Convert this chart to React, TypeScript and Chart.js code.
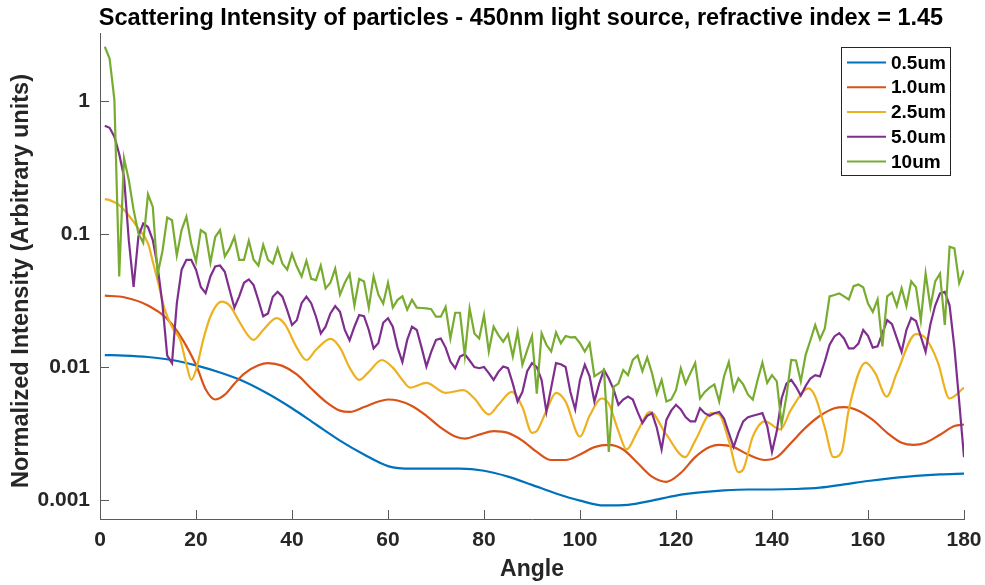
import React, { useEffect, useRef } from "react";
import { Chart, registerables } from "chart.js";

Chart.register(...registerables);

const TITLE = "Scattering Intensity of particles - 450nm light source, refractive index = 1.45";
const X_LABEL = "Angle";
const Y_LABEL = "Normalized Intensity (Arbitrary units)";
const SERIES_LABELS = ["0.5um", "1.0um", "2.5um", "5.0um", "10um"];
const SERIES_COLORS = ["#0072BD", "#D95319", "#EDB120", "#7E2F8E", "#77AC30"];
const X_TICKS = [0, 20, 40, 60, 80, 100, 120, 140, 160, 180];
const Y_TICKS = [0.001, 0.01, 0.1, 1];
const Y_TICK_LABELS = ["0.001", "0.01", "0.1", "1"];

// 0.5um
const ANGLES_05 = [1, 5, 10, 15, 20, 25, 30, 35, 40, 45, 50, 55, 60, 65, 70, 75, 80, 85, 90, 95, 100, 105, 110, 115, 120, 125, 130, 135, 140, 145, 150, 155, 160, 165, 170, 175, 180];
const VALUES_05 = [0.0123, 0.0122, 0.0119, 0.0113, 0.0103, 0.0091, 0.0078, 0.0063, 0.0049, 0.0037, 0.0028, 0.0022, 0.0018, 0.00172, 0.00172, 0.00172, 0.00166, 0.0015, 0.0013, 0.00112, 0.00099, 0.00091, 0.00092, 0.00099, 0.00108, 0.00114, 0.00118, 0.0012, 0.0012, 0.00121, 0.00124, 0.00131, 0.00139, 0.00146, 0.00152, 0.00156, 0.00158];

// 1.0um
const ANGLES_10 = [1, 5, 10, 15, 20, 22, 24, 26, 28, 30, 33, 35, 38, 41, 44, 47, 50, 52, 55, 58, 60, 62, 65, 68, 71, 74, 76, 79, 82, 85, 88, 91, 94, 97, 100, 103, 106, 109, 112, 115, 118, 121, 124, 127, 129, 132, 135, 138.5, 141, 144, 147, 150, 153, 155, 158, 161, 164, 167, 169.5, 172, 175, 178, 180];
const VALUES_10 = [0.0344, 0.0335, 0.029, 0.021, 0.0104, 0.0068, 0.0057, 0.0062, 0.0075, 0.0089, 0.0103, 0.0107, 0.0102, 0.0088, 0.0069, 0.0055, 0.0047, 0.0046, 0.005, 0.0055, 0.0057, 0.0056, 0.0051, 0.0043, 0.0035, 0.003, 0.0029, 0.0031, 0.0033, 0.0032, 0.0028, 0.0023, 0.002, 0.002, 0.0022, 0.0025, 0.0026, 0.0024, 0.0019, 0.0015, 0.00137, 0.0016, 0.0021, 0.0025, 0.0026, 0.0025, 0.0022, 0.002, 0.0021, 0.0027, 0.0035, 0.0043, 0.0049, 0.005, 0.0047, 0.004, 0.0032, 0.0027, 0.0026, 0.0027, 0.0031, 0.0036, 0.0037];

// 2.5um
const ANGLES_25 = [1, 2, 4, 6, 8, 10, 11, 12, 13.5, 15, 16.7, 18, 19, 20, 21.5, 23, 25.3, 27, 29, 31, 32, 34, 36.8, 38.5, 41, 43, 45, 48, 50, 52, 54, 56, 58.7, 61, 63, 64.6, 68, 72, 75.7, 78, 81, 83, 85.8, 88, 90, 91, 93, 95, 97, 100, 102, 104.5, 106, 108, 109.7, 112, 114.6, 118, 121.9, 124, 127.4, 129, 131, 133, 134, 136, 138.5, 141.7, 144, 147.6, 149, 151, 152.8, 154.5, 156, 159.5, 161.5, 163.9, 166, 170, 172, 174.5, 177, 180];
const VALUES_25 = [0.183, 0.18, 0.165, 0.138, 0.11, 0.085, 0.062, 0.045, 0.027, 0.02, 0.016, 0.0105, 0.008, 0.0095, 0.016, 0.024, 0.031, 0.029, 0.022, 0.017, 0.016, 0.019, 0.0233, 0.021, 0.014, 0.0113, 0.0135, 0.0163, 0.014, 0.0099, 0.008, 0.0092, 0.0113, 0.0099, 0.008, 0.007, 0.0076, 0.0064, 0.0067, 0.0058, 0.0044, 0.0052, 0.0065, 0.005, 0.0032, 0.0033, 0.0047, 0.0064, 0.0055, 0.003, 0.0043, 0.0058, 0.0053, 0.0033, 0.0024, 0.0033, 0.0046, 0.0031, 0.0021, 0.0028, 0.0045, 0.0044, 0.0028, 0.00162, 0.0017, 0.003, 0.0039, 0.0034, 0.0048, 0.0069, 0.006, 0.0035, 0.0021, 0.0023, 0.0048, 0.0108, 0.009, 0.006, 0.009, 0.0177, 0.0165, 0.011, 0.0058, 0.007];

// 1..180 degree angles for the fine series
const ANGLES_FINE = Array.from({ length: 180 }, (_, i) => i + 1);

// 5.0um
const VALUES_50 = [
  0.652, 0.63, 0.54, 0.4, 0.27, 0.09, 0.04, 0.096, 0.12, 0.113,
  0.09, 0.057, 0.03, 0.0122, 0.0107, 0.03, 0.054, 0.064, 0.064, 0.054,
  0.04, 0.036, 0.048, 0.057, 0.058, 0.052, 0.038, 0.028, 0.034, 0.043,
  0.0456, 0.0413, 0.0318, 0.0241, 0.0253, 0.0338, 0.0368, 0.0338, 0.0268, 0.0207,
  0.0225, 0.0302, 0.0338, 0.0302, 0.0239, 0.0179, 0.0201, 0.0253, 0.0287, 0.026,
  0.019, 0.0159, 0.0201, 0.0246, 0.0241, 0.019, 0.0138, 0.0152, 0.0215, 0.0233,
  0.0201, 0.014, 0.0109, 0.016, 0.0201, 0.019, 0.014, 0.0101, 0.013, 0.016,
  0.0164, 0.014, 0.011, 0.0098, 0.012, 0.0125, 0.0112, 0.01, 0.0098, 0.01,
  0.009, 0.008, 0.0092, 0.0101, 0.0098, 0.0075, 0.0055, 0.0065, 0.0093, 0.0107,
  0.01, 0.008, 0.0046, 0.007, 0.0107, 0.0105, 0.01, 0.0065, 0.0048, 0.008,
  0.0104, 0.0085, 0.0055, 0.0075, 0.0095, 0.0082, 0.0068, 0.0052, 0.0057, 0.006,
  0.0057, 0.0046, 0.0038, 0.0043, 0.0045, 0.0035, 0.0024, 0.004, 0.0047, 0.0052,
  0.0048, 0.0042, 0.0039, 0.0039, 0.0049, 0.0045, 0.0043, 0.0045, 0.0046, 0.0041,
  0.0032, 0.0025, 0.0032, 0.0039, 0.0042, 0.0043, 0.0044, 0.0045, 0.0036, 0.0023,
  0.0033, 0.0058, 0.0075, 0.008, 0.0071, 0.0061, 0.0072, 0.0082, 0.0087, 0.0085,
  0.011, 0.0147, 0.017, 0.018, 0.0164, 0.0138, 0.0138, 0.015, 0.019, 0.0172,
  0.014, 0.0143, 0.018, 0.0225, 0.021, 0.0165, 0.013, 0.019, 0.0234, 0.0222,
  0.017, 0.013, 0.021, 0.029, 0.0358, 0.0368, 0.029, 0.014, 0.0055, 0.0021,
];

// 10um
const VALUES_100 = [
  2.56, 2.09, 1.02, 0.048, 0.371, 0.255, 0.152, 0.101, 0.086, 0.199,
  0.16, 0.05, 0.074, 0.133, 0.127, 0.069, 0.107, 0.135, 0.085, 0.062,
  0.107, 0.101, 0.061, 0.095, 0.107, 0.068, 0.078, 0.095, 0.064, 0.064,
  0.089, 0.064, 0.058, 0.083, 0.064, 0.06, 0.078, 0.06, 0.054, 0.071,
  0.057, 0.048, 0.063, 0.046, 0.045, 0.058, 0.039, 0.043, 0.055, 0.035,
  0.043, 0.05, 0.029, 0.046, 0.044, 0.028, 0.048, 0.035, 0.03, 0.043,
  0.028, 0.032, 0.034, 0.027, 0.032, 0.028, 0.0278, 0.0276, 0.0272, 0.0239,
  0.0239, 0.0283, 0.0164, 0.0256, 0.0256, 0.0122, 0.0276, 0.0179, 0.0164, 0.0246,
  0.0131, 0.0201, 0.0174, 0.0155, 0.0177, 0.012, 0.0184, 0.0104, 0.0134, 0.0171,
  0.0063, 0.0179, 0.0147, 0.0131, 0.0182, 0.0151, 0.0171, 0.0167, 0.0168, 0.0151,
  0.0131, 0.0151, 0.0085, 0.009, 0.0095, 0.0023, 0.0071, 0.0075, 0.0095, 0.0087,
  0.0113, 0.0122, 0.0093, 0.0118, 0.009, 0.0063, 0.008, 0.0055, 0.0057, 0.0067,
  0.0098, 0.0075, 0.009, 0.0107, 0.0058, 0.0065, 0.007, 0.0074, 0.0055, 0.0085,
  0.0109, 0.0067, 0.0082, 0.0074, 0.0062, 0.0057, 0.008, 0.0108, 0.0076, 0.0087,
  0.0078, 0.0037, 0.006, 0.0113, 0.0112, 0.0078, 0.0123, 0.0159, 0.0207, 0.0162,
  0.0195, 0.034, 0.0348, 0.0358, 0.034, 0.0322, 0.0406, 0.0418, 0.0398, 0.03,
  0.026, 0.0322, 0.0143, 0.034, 0.0363, 0.0287, 0.0391, 0.0287, 0.0441, 0.0398,
  0.0225, 0.0505, 0.0283, 0.0441, 0.0505, 0.0207, 0.0802, 0.078, 0.0428, 0.0535,
];

const FONT = "'Liberation Sans', Arial, Helvetica, sans-serif";
const AXIS_COLOR = "#5a5a5a";
const TEXT_COLOR = "#262626";

const pairs = (xs: number[], ys: number[]) => xs.map((x, i) => ({ x, y: ys[i] }));

const decorPlugin = {
  id: "decor",
  afterDraw(chart: any) {
    const { ctx, chartArea: ca, scales } = chart;
    ctx.save();
    // inward ticks
    ctx.strokeStyle = AXIS_COLOR;
    ctx.lineWidth = 1;
    ctx.beginPath();
    X_TICKS.forEach((v) => {
      const px = Math.round(scales.x.getPixelForValue(v)) + 0.5;
      ctx.moveTo(px, ca.bottom);
      ctx.lineTo(px, ca.bottom - 9);
    });
    Y_TICKS.forEach((v) => {
      const py = Math.round(scales.y.getPixelForValue(v)) + 0.5;
      ctx.moveTo(ca.left, py);
      ctx.lineTo(ca.left + 9, py);
    });
    ctx.stroke();

    // title
    ctx.fillStyle = "#000";
    ctx.font = `bold 23.5px ${FONT}`;
    ctx.textAlign = "center";
    ctx.textBaseline = "alphabetic";
    ctx.fillText(TITLE, 521, 24.5);

    // y-axis label
    ctx.save();
    ctx.translate(22, 281);
    ctx.rotate(-Math.PI / 2);
    ctx.fillStyle = TEXT_COLOR;
    ctx.font = `bold 23.5px ${FONT}`;
    ctx.textAlign = "center";
    ctx.textBaseline = "middle";
    ctx.fillText(Y_LABEL, 0, 0);
    ctx.restore();

    // legend
    const bx = 841.5, by = 47.5, bw = 109, bh = 128;
    ctx.fillStyle = "#fff";
    ctx.fillRect(bx, by, bw, bh);
    ctx.strokeStyle = "#262626";
    ctx.lineWidth = 1;
    ctx.strokeRect(bx, by, bw, bh);
    ctx.font = `bold 19px ${FONT}`;
    ctx.textAlign = "left";
    ctx.textBaseline = "middle";
    chart.data.datasets.forEach((ds: any, i: number) => {
      const y = 62.5 + i * 24.75;
      ctx.strokeStyle = ds.borderColor;
      ctx.lineWidth = 2.2;
      ctx.beginPath();
      ctx.moveTo(847, y);
      ctx.lineTo(886, y);
      ctx.stroke();
      ctx.fillStyle = "#000";
      ctx.fillText(ds.label, 891, y + 1);
    });
    ctx.restore();
  },
};

export default function App() {
  const ref = useRef<HTMLCanvasElement | null>(null);

  useEffect(() => {
    if (!ref.current) return;
    const valueSets = [
      pairs(ANGLES_05, VALUES_05),
      pairs(ANGLES_10, VALUES_10),
      pairs(ANGLES_25, VALUES_25),
      pairs(ANGLES_FINE, VALUES_50),
      pairs(ANGLES_FINE, VALUES_100),
    ];
    const smooth = [true, true, true, false, false];
    const chart = new Chart(ref.current, {
      type: "line",
      data: {
        datasets: valueSets.map((data, i) => ({
          label: SERIES_LABELS[i],
          data,
          borderColor: SERIES_COLORS[i],
          backgroundColor: SERIES_COLORS[i],
          borderWidth: 2.2,
          pointRadius: 0,
          fill: false,
          tension: smooth[i] ? 0.4 : 0,
          cubicInterpolationMode: smooth[i] ? "monotone" : "default",
          order: 4 - i,
        })),
      },
      options: {
        animation: false,
        responsive: false,
        devicePixelRatio: 1,
        layout: { padding: { top: 33, right: 21, left: 0, bottom: 0 } },
        plugins: {
          legend: { display: false },
          title: { display: false },
          tooltip: { enabled: false },
        },
        scales: {
          x: {
            type: "linear",
            min: 0,
            max: 180,
            afterBuildTicks: (scale: any) => {
              scale.ticks = X_TICKS.map((v) => ({ value: v }));
            },
            afterFit: (scale: any) => {
              scale.height = 66;
              scale.paddingLeft = 0;
              scale.paddingRight = 0;
            },
            ticks: {
              color: TEXT_COLOR,
              font: { family: FONT, size: 21, weight: "bold" },
              padding: 9,
              maxRotation: 0,
              autoSkip: false,
            },
            grid: { display: false, drawTicks: false },
            border: { display: true, color: AXIS_COLOR, width: 1 },
            title: {
              display: true,
              text: X_LABEL,
              color: TEXT_COLOR,
              font: { family: FONT, size: 23, weight: "bold" },
              padding: { top: 0, bottom: 2 },
            },
          },
          y: {
            type: "logarithmic",
            min: 0.00072,
            max: 3.25,
            afterBuildTicks: (scale: any) => {
              scale.ticks = Y_TICKS.map((v) => ({ value: v }));
            },
            afterFit: (scale: any) => {
              scale.width = 100;
              scale.paddingTop = 0;
              scale.paddingBottom = 0;
            },
            ticks: {
              color: TEXT_COLOR,
              font: { family: FONT, size: 21, weight: "bold" },
              padding: 10,
              autoSkip: false,
              callback: (value: any) => {
                const idx = Y_TICKS.indexOf(Number(value));
                return idx >= 0 ? Y_TICK_LABELS[idx] : "";
              },
            },
            grid: { display: false, drawTicks: false },
            border: { display: true, color: AXIS_COLOR, width: 1 },
            title: { display: false },
          },
        },
      } as any,
      plugins: [decorPlugin],
    });
    return () => chart.destroy();
  }, []);

  return (
    <div style={{ position: "absolute", left: 0, top: 0, width: 985, height: 585, background: "#fff" }}>
      <canvas ref={ref} width={985} height={585} style={{ display: "block" }} />
    </div>
  );
}
